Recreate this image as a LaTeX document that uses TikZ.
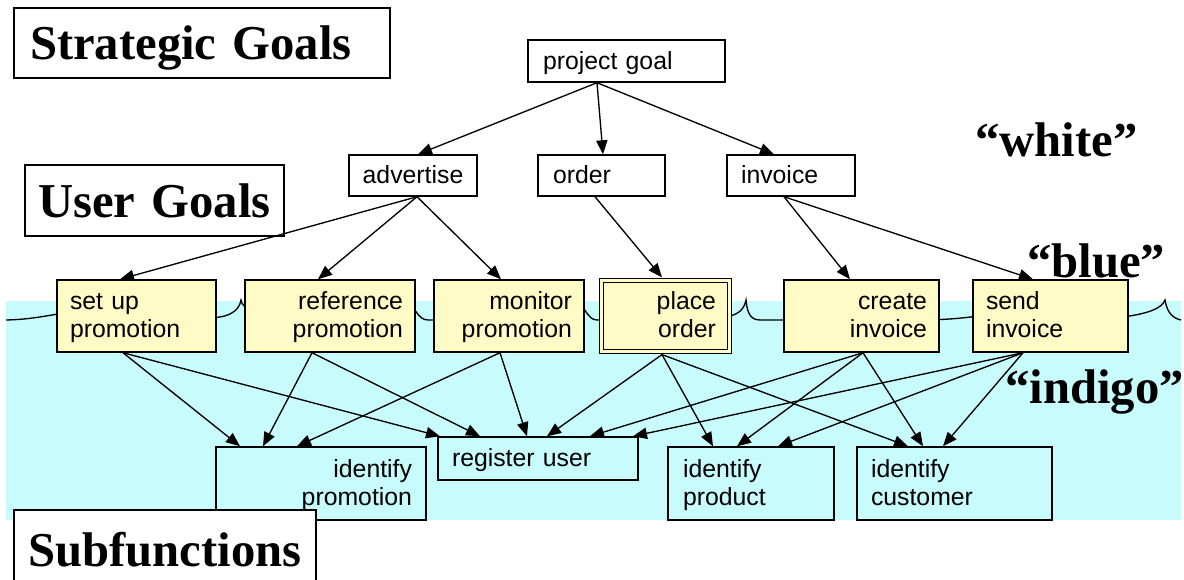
\documentclass[tikz,border=0pt]{standalone}
\usepackage{fontspec}
\setmainfont{Liberation Serif}
\setsansfont{Liberation Sans}
\usetikzlibrary{arrows.meta}
\newdimen\pxu \pxu=0.75pt
\definecolor{bandcyan}{RGB}{200,251,251}
\definecolor{boxyellow}{RGB}{255,251,199}
\begin{document}
\begin{tikzpicture}[x=0.75pt,y=-0.75pt,
  sz/.style n args={3}{text width=#1\pxu, minimum height=#2\pxu, inner xsep=#3\pxu, inner ysep=0pt},
  gbox/.style={draw=black, line width=1.1pt, fill=white, font=\sffamily\fontsize{18.6}{21}\selectfont},
  oneline/.style={text height=16.3pt, text depth=3.9pt},
  twoline/.style={text height=15.5pt, text depth=24.9pt},
  ybox/.style={gbox, twoline, fill=boxyellow},
  cbox/.style={gbox, twoline, fill=bandcyan},
  tag/.style={draw=black, line width=1.1pt, fill=white, font=\fontsize{36.5}{40}\selectfont\bfseries, text height=25pt, text depth=0pt},
  quote/.style={font=\fontsize{36.5}{40}\selectfont\bfseries, inner sep=0pt, anchor=base west},
  arr/.style={line width=1pt, -{Triangle[length=10.5pt,width=8.5pt]}},
  wave/.style={line width=1pt}]
\useasboundingbox (0,0) rectangle (1184,580);

% light band behind the lower levels
\fill[bandcyan] (6,301) rectangle (1181,520);

% brace-like boundary line (boxes are drawn on top of it)
\draw[wave] (6,320) .. controls (30,319.5) and (45,316) .. (70,312);
\draw[wave] (200,318) .. controls (228,319) and (239,312) .. (241,300) .. controls (242,305) and (244,308) .. (255,309);
\draw[wave] (405,300) .. controls (415,305) and (417,320) .. (428,320) -- (445,320);
\draw[wave] (575,300) .. controls (585,305) and (587,320) .. (597,320) -- (610,320);
\draw[wave] (720,318) .. controls (738,316) and (744,310) .. (746,300) .. controls (747,312) and (750,320) .. (760,320) -- (795,320);
\draw[wave] (925,320) .. controls (950,319.5) and (965,318) .. (985,315);
\draw[wave] (1115,318) .. controls (1150,314) and (1162,308) .. (1165,300) .. controls (1167,312) and (1172,318) .. (1181,320);

% level names
\node[quote] (white) at (975,157) {“white”};
\node[quote] (blue) at (1027,278) {“blue”};
\node[quote] (indigo) at (1005,403) {“indigo”};

% goals
\node[gbox, oneline, sz={167}{42}{15}, align=left] (pg) at (626.5,61) {project goal};
\node[gbox, oneline, sz={108}{41}{10}, align=center] (adv) at (413,175.5) {advertise};
\node[gbox, oneline, sz={97}{41}{15}, align=left] (ord) at (601.5,175.5) {order};
\node[gbox, oneline, sz={100}{41}{14}, align=left] (inv) at (791,175.5) {invoice};

\node[ybox, sz={133}{72}{13}, align=left] (setup) at (136.5,316) {set up\\promotion};
\node[ybox, sz={146}{72}{12}, align=right] (refp) at (330,316) {reference\\promotion};
\node[ybox, sz={126}{72}{12}, align=right] (monp) at (509,316) {monitor\\promotion};
\node[ybox, double=boxyellow, double distance=2pt, line width=0.9pt, sz={101}{71}{13.5}, align=right] (place) at (665.5,316) {place\\order};
\node[ybox, sz={131}{72}{12}, align=right] (create) at (861.5,316) {create\\invoice};
\node[ybox, sz={129}{72}{13}, align=left] (send) at (1050.5,316) {send\\invoice};

% subfunctions
\node[cbox, sz={182}{73}{14}, align=right] (idpromo) at (321,483.5) {identify\\promotion};
\node[cbox, oneline, sz={172}{43}{14}, align=left] (reg) at (538,458.5) {register user};
\node[cbox, sz={136}{73}{15}, align=left] (idprod) at (751,483.5) {identify\\product};
\node[cbox, sz={167}{73}{14}, align=left] (idcust) at (954.5,483.5) {identify\\customer};

% level tags
\node[tag, sz={344}{70}{16}, align=left] (strat) at (202,43) {Strategic Goals};
\node[tag, sz={239}{71}{10}, align=center] (user) at (154.5,200.5) {User Goals};
\node[tag, sz={282}{80}{10}, align=center] (subf) at (165,550) {Subfunctions};

% project goal -> user goals
\draw[arr] ([shift={(-29.5,0)}]pg.south) -- ([shift={(5,0)}]adv.north);
\draw[arr] ([shift={(-29.5,0)}]pg.south) -- ([shift={(1.5,0)}]ord.north);
\draw[arr] ([shift={(-29.5,0)}]pg.south) -- ([shift={(-17,0)}]inv.north);

% user goals -> blue level
\draw[arr] ([shift={(4,0)}]adv.south) -- ([shift={(-16.5,0)}]setup.north);
\draw[arr] ([shift={(4,0)}]adv.south) -- ([shift={(-12,0)}]refp.north);
\draw[arr] ([shift={(4,0)}]adv.south) -- ([shift={(-8,0)}]monp.north);
\draw[arr] ([shift={(-6.5,0)}]ord.south) -- ([shift={(-3.5,-2.5)}]place.north);
\draw[arr] ([shift={(-7,0)}]inv.south) -- ([shift={(-11.5,0)}]create.north);
\draw[arr] ([shift={(-7,0)}]inv.south) -- ([shift={(-17.5,0)}]send.north);

% blue level -> subfunctions
\draw[arr] ([shift={(-13.5,0)}]setup.south) -- ([shift={(-81,0)}]idpromo.north);
\draw[arr] ([shift={(-13.5,0)}]setup.south) -- ([shift={(-98,0)}]reg.north);
\draw[arr] ([shift={(-18,0)}]refp.south) -- ([shift={(-58,0)}]idpromo.north);
\draw[arr] ([shift={(-18,0)}]refp.south) -- ([shift={(-58,0)}]reg.north);
\draw[arr] ([shift={(-9,0)}]monp.south) -- ([shift={(-24,0)}]idpromo.north);
\draw[arr] ([shift={(-9,0)}]monp.south) -- ([shift={(-11,0)}]reg.north);
\draw[arr] ([shift={(-3.5,2.5)}]place.south) -- ([shift={(9,0)}]reg.north);
\draw[arr] ([shift={(-3.5,2.5)}]place.south) -- ([shift={(-38,0)}]idprod.north);
\draw[arr] ([shift={(-3.5,2.5)}]place.south) -- ([shift={(-46.5,0)}]idcust.north);
\draw[arr] ([shift={(1.5,0)}]create.south) -- ([shift={(52,0)}]reg.north);
\draw[arr] ([shift={(1.5,0)}]create.south) -- ([shift={(-14,0)}]idprod.north);
\draw[arr] ([shift={(1.5,0)}]create.south) -- ([shift={(-31.5,0)}]idcust.north);
\draw[arr] ([shift={(-27.5,0)}]send.south) -- ([shift={(95,0)}]reg.north);
\draw[arr] ([shift={(-27.5,0)}]send.south) -- ([shift={(27,0)}]idprod.north);
\draw[arr] ([shift={(-27.5,0)}]send.south) -- ([shift={(-11.5,0)}]idcust.north);
\end{tikzpicture}
\end{document}
